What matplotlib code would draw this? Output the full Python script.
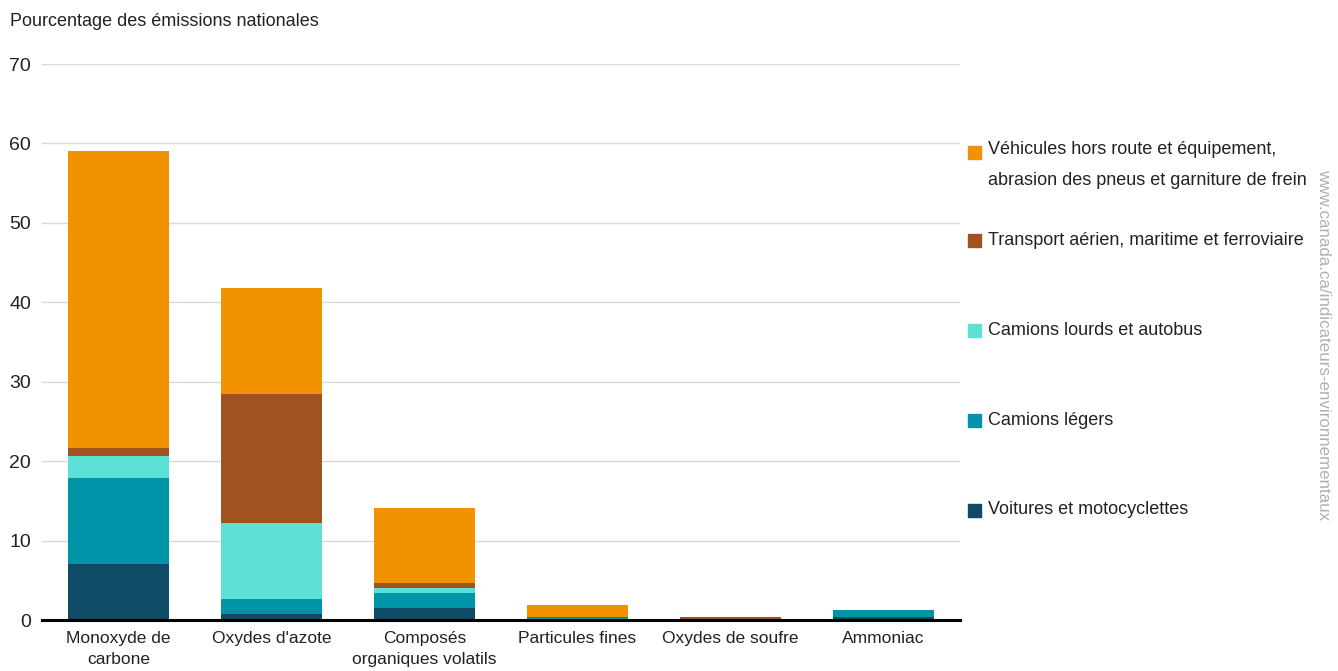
import matplotlib
matplotlib.use("Agg")
import matplotlib.pyplot as plt
import matplotlib.patches as mpatches
import numpy as np

plt.rcParams['font.family'] = ['Liberation Sans', 'DejaVu Sans']

#############################################################
# Data
#############################################################

categories = ["Monoxyde de\ncarbone", "Oxydes d'azote", "Composés\norganiques volatils",
              "Particules fines", "Oxydes de soufre", "Ammoniac"]

# bottom to top
voitures = [7.1, 0.8, 1.5, 0.1, 0.03, 0.35]
camions_legers = [10.8, 1.8, 1.9, 0.1, 0.02, 0.85]
camions_lourds = [2.8, 9.6, 0.6, 0.05, 0.02, 0.05]
aerien = [1.0, 16.3, 0.6, 0.15, 0.25, 0.0]
hors_route = [37.3, 13.3, 9.5, 1.5, 0.03, 0.02]

series_labels = ["Voitures et motocyclettes",
                 "Camions légers",
                 "Camions lourds et autobus",
                 "Transport aérien, maritime et ferroviaire",
                 "Véhicules hors route et équipement,\nabrasion des pneus et garniture de frein"]
series_colors = ["#0F4A66", "#0094A8", "#5DE0D6", "#A0521F", "#F39200"]

yticks = [0, 10, 20, 30, 40, 50, 60, 70]

#############################################################
# Figure
#############################################################

fig = plt.figure(figsize=(13.38, 6.71), dpi=100)
ax = fig.add_axes([0.0314, 0.076, 0.686, 0.8286])

x = np.arange(len(categories))
bottom = np.zeros(len(categories))
all_series = [voitures, camions_legers, camions_lourds, aerien, hors_route]
for vals, col in zip(all_series, series_colors):
    ax.bar(x, vals, width=0.66, bottom=bottom, color=col, zorder=2)
    bottom = bottom + np.array(vals)

ax.set_xlim(-0.5, len(categories) - 0.5)
ax.set_ylim(0, 70)
ax.set_yticks(yticks)
ax.set_yticklabels([str(t) for t in yticks], fontsize=14)
ax.set_xticks(x)
ax.set_xticklabels(categories, fontsize=12.5, linespacing=1.5)
ax.tick_params(axis='both', length=0, colors='#222222')
ax.tick_params(axis='y', pad=8)
ax.tick_params(axis='x', pad=8)
ax.yaxis.grid(True, color='#d9d9d9', linewidth=1, zorder=0)
ax.set_axisbelow(True)
for s in ax.spines.values():
    s.set_visible(False)
ax.axhline(0, color='black', linewidth=2.2, zorder=3, clip_on=False)

fig.text(0.0075, 0.968, "Pourcentage des émissions nationales", fontsize=13,
         color='#222222', va='center', ha='left')

# legend, drawn by hand (top entry first)
legend_y = [0.773, 0.642, 0.508, 0.374, 0.240]
for i, yy in enumerate(legend_y):
    idx = len(series_labels) - 1 - i
    fig.patches.append(mpatches.Rectangle((0.7235, yy - 0.0105), 0.0100, 0.020,
                                          transform=fig.transFigure,
                                          color=series_colors[idx]))
    lbl = series_labels[idx]
    if '\n' in lbl:
        fig.text(0.7385, yy + 0.017, lbl, fontsize=13, color='#222222',
                 va='top', ha='left', linespacing=2.1)
    else:
        fig.text(0.7385, yy, lbl, fontsize=13, color='#222222',
                 va='center', ha='left')

fig.text(0.989, 0.487, "www.canada.ca/indicateurs-environnementaux", rotation=270,
         fontsize=12.2, color='#b0b0b0', ha='center', va='center')

plt.savefig("out.png", dpi=100)
